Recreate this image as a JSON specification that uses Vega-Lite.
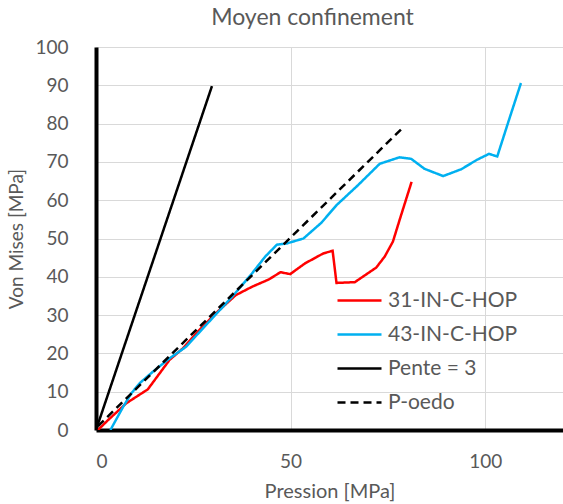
{
  "$schema": "https://vega.github.io/schema/vega-lite/v6.json",
  "autosize": {"type": "none"},
  "width": 467,
  "height": 383,
  "padding": {"left": 96, "top": 47, "right": 0, "bottom": 74},
  "background": "white",
  "title": {"text": "Moyen confinement", "font": "Lato", "fontSize": 23, "fontWeight": "normal", "color": "#595959", "dx": -17, "offset": 8},
  "config": {
    "view": {"stroke": null},
    "font": "Lato"
  },
  "data": {"values": [
    {"s": "31-IN-C-HOP", "o": 1, "x": 0.5, "y": 0},
    {"s": "31-IN-C-HOP", "o": 2, "x": 3, "y": 2.5},
    {"s": "31-IN-C-HOP", "o": 3, "x": 7.8, "y": 7},
    {"s": "31-IN-C-HOP", "o": 4, "x": 13.3, "y": 10.6},
    {"s": "31-IN-C-HOP", "o": 5, "x": 18.9, "y": 18.3},
    {"s": "31-IN-C-HOP", "o": 6, "x": 22.3, "y": 21.3},
    {"s": "31-IN-C-HOP", "o": 7, "x": 25.7, "y": 25.2},
    {"s": "31-IN-C-HOP", "o": 8, "x": 30.8, "y": 30.5},
    {"s": "31-IN-C-HOP", "o": 9, "x": 35.9, "y": 35.2},
    {"s": "31-IN-C-HOP", "o": 10, "x": 40.1, "y": 37.4},
    {"s": "31-IN-C-HOP", "o": 11, "x": 44.4, "y": 39.3},
    {"s": "31-IN-C-HOP", "o": 12, "x": 47.4, "y": 41.2},
    {"s": "31-IN-C-HOP", "o": 13, "x": 49.9, "y": 40.7},
    {"s": "31-IN-C-HOP", "o": 14, "x": 53.7, "y": 43.5},
    {"s": "31-IN-C-HOP", "o": 15, "x": 58.4, "y": 46.1},
    {"s": "31-IN-C-HOP", "o": 16, "x": 60.8, "y": 46.8},
    {"s": "31-IN-C-HOP", "o": 17, "x": 61.8, "y": 38.4},
    {"s": "31-IN-C-HOP", "o": 18, "x": 66.5, "y": 38.6},
    {"s": "31-IN-C-HOP", "o": 19, "x": 72.0, "y": 42.4},
    {"s": "31-IN-C-HOP", "o": 20, "x": 74.2, "y": 45.3},
    {"s": "31-IN-C-HOP", "o": 21, "x": 76.3, "y": 49.2},
    {"s": "31-IN-C-HOP", "o": 22, "x": 78.0, "y": 54.8},
    {"s": "31-IN-C-HOP", "o": 23, "x": 81.1, "y": 64.8},
    {"s": "43-IN-C-HOP", "o": 1, "x": 3.7, "y": 0},
    {"s": "43-IN-C-HOP", "o": 2, "x": 7, "y": 6.1},
    {"s": "43-IN-C-HOP", "o": 3, "x": 9.1, "y": 9.6},
    {"s": "43-IN-C-HOP", "o": 4, "x": 11.2, "y": 12.2},
    {"s": "43-IN-C-HOP", "o": 5, "x": 14.6, "y": 15.2},
    {"s": "43-IN-C-HOP", "o": 6, "x": 18.9, "y": 18.7},
    {"s": "43-IN-C-HOP", "o": 7, "x": 23.1, "y": 21.7},
    {"s": "43-IN-C-HOP", "o": 8, "x": 29.9, "y": 29.2},
    {"s": "43-IN-C-HOP", "o": 9, "x": 35, "y": 34.8},
    {"s": "43-IN-C-HOP", "o": 10, "x": 40.1, "y": 40.9},
    {"s": "43-IN-C-HOP", "o": 11, "x": 43.5, "y": 45.3},
    {"s": "43-IN-C-HOP", "o": 12, "x": 46.5, "y": 48.4},
    {"s": "43-IN-C-HOP", "o": 13, "x": 49, "y": 48.7},
    {"s": "43-IN-C-HOP", "o": 14, "x": 53.3, "y": 50.0},
    {"s": "43-IN-C-HOP", "o": 15, "x": 57.9, "y": 54.1},
    {"s": "43-IN-C-HOP", "o": 16, "x": 61.8, "y": 58.7},
    {"s": "43-IN-C-HOP", "o": 17, "x": 67.3, "y": 63.9},
    {"s": "43-IN-C-HOP", "o": 18, "x": 72.9, "y": 69.5},
    {"s": "43-IN-C-HOP", "o": 19, "x": 78, "y": 71.2},
    {"s": "43-IN-C-HOP", "o": 20, "x": 81, "y": 70.8},
    {"s": "43-IN-C-HOP", "o": 21, "x": 84.4, "y": 68.2},
    {"s": "43-IN-C-HOP", "o": 22, "x": 89.2, "y": 66.3},
    {"s": "43-IN-C-HOP", "o": 23, "x": 93.9, "y": 68.1},
    {"s": "43-IN-C-HOP", "o": 24, "x": 97.8, "y": 70.5},
    {"s": "43-IN-C-HOP", "o": 25, "x": 101, "y": 72.1},
    {"s": "43-IN-C-HOP", "o": 26, "x": 103.1, "y": 71.4},
    {"s": "43-IN-C-HOP", "o": 27, "x": 106.1, "y": 80.9},
    {"s": "43-IN-C-HOP", "o": 28, "x": 109.2, "y": 90.6},
    {"s": "Pente = 3", "o": 1, "x": 0, "y": 0},
    {"s": "Pente = 3", "o": 2, "x": 29.8, "y": 89.8},
    {"s": "P-oedo", "o": 1, "x": 0.5, "y": 1},
    {"s": "P-oedo", "o": 2, "x": 78.8, "y": 78.9}
  ]},
  "mark": {"type": "line", "strokeWidth": 2.5, "clip": true},
  "encoding": {
    "x": {"field": "x", "type": "quantitative", "scale": {"domain": [0, 120], "nice": false},
      "axis": {"values": [0, 50, 100], "title": "Pression [MPa]", "titleFont": "Lato", "titleFontSize": 20, "titleFontWeight": "normal", "titleColor": "#595959", "titlePadding": 10,
        "labelFont": "Lato", "labelFontSize": 19, "labelColor": "#595959", "labelPadding": 22, "ticks": false,
        "domainColor": "black", "domainWidth": 4, "gridColor": "#d9d9d9", "gridWidth": 1}},
    "y": {"field": "y", "type": "quantitative", "scale": {"domain": [0, 100], "nice": false},
      "axis": {"values": [0, 10, 20, 30, 40, 50, 60, 70, 80, 90, 100], "title": "Von Mises [MPa]", "titleFont": "Lato", "titleFontSize": 19, "titleFontWeight": "normal", "titleColor": "#595959", "titlePadding": 8,
        "labelFont": "Lato", "labelFontSize": 19, "labelColor": "#595959", "labelPadding": 28, "ticks": false,
        "domainColor": "black", "domainWidth": 4, "gridColor": "#d9d9d9", "gridWidth": 1}},
    "order": {"field": "o", "type": "quantitative"},
    "color": {"field": "s", "type": "nominal", "title": null,
      "scale": {"domain": ["31-IN-C-HOP", "43-IN-C-HOP", "Pente = 3", "P-oedo"], "range": ["#ff0000", "#00b0f0", "#000000", "#000000"]},
      "legend": {"orient": "none", "legendX": 240, "legendY": 230, "symbolType": "stroke", "symbolSize": 1936, "symbolStrokeWidth": 2.5, "labelFont": "Lato", "labelFontSize": 21, "labelColor": "#595959", "rowPadding": -5, "labelOffset": 5}},
    "strokeDash": {"field": "s", "type": "nominal", "title": null,
      "scale": {"domain": ["31-IN-C-HOP", "43-IN-C-HOP", "Pente = 3", "P-oedo"], "range": [[1, 0], [1, 0], [1, 0], [8, 5]]}}
  }
}
